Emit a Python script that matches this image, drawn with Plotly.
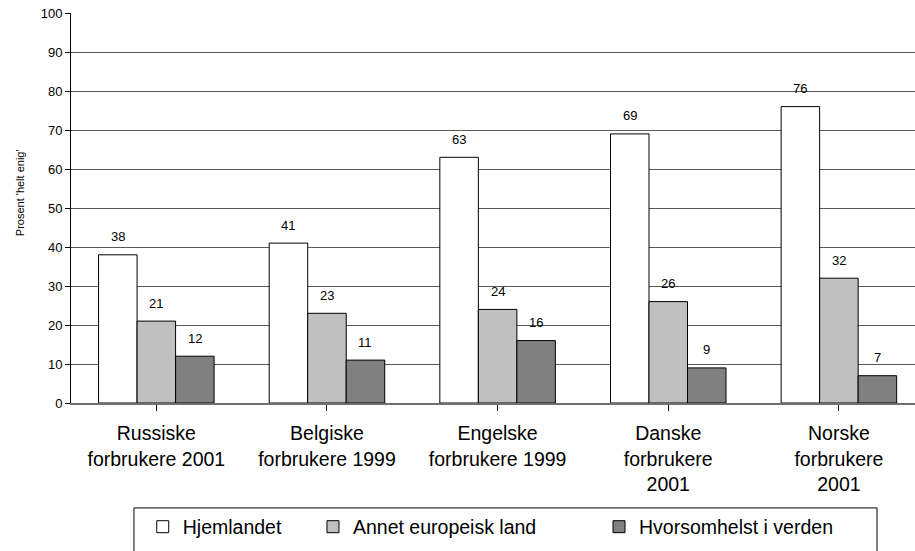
import plotly.graph_objects as go

# Survey groups (x categories)
categories = [
    "Russiske<br>forbrukere 2001",
    "Belgiske<br>forbrukere 1999",
    "Engelske<br>forbrukere 1999",
    "Danske<br>forbrukere<br>2001",
    "Norske<br>forbrukere<br>2001",
]

# Share answering 'helt enig' (percent)
hjemlandet = [38, 41, 63, 69, 76]
annet_europeisk = [21, 23, 24, 26, 32]
hvorsomhelst = [12, 11, 16, 9, 7]

series_names = ["Hjemlandet", "Annet europeisk land", "Hvorsomhelst i verden"]
series_values = [hjemlandet, annet_europeisk, hvorsomhelst]
series_colors = ["#FFFFFF", "#C0C0C0", "#808080"]
legend_ids = ["legend", "legend2", "legend3"]

y_ticks = [0, 10, 20, 30, 40, 50, 60, 70, 80, 90, 100]

FONT = "Liberation Sans, Arial, sans-serif"
BARGAP = 0.323
BAR_W = (1 - BARGAP) / 3

fig = go.Figure()
for name, vals, color, lg in zip(series_names, series_values, series_colors, legend_ids):
    fig.add_trace(go.Bar(
        x=list(range(len(categories))),
        y=vals,
        name=name,
        marker=dict(color=color, line=dict(color="#000000", width=1)),
        legend=lg,
        showlegend=True,
        hoverinfo="skip",
    ))

# value labels above each bar
for j, vals in enumerate(series_values):
    for i, v in enumerate(vals):
        fig.add_annotation(
            x=i + (j - 1) * BAR_W, y=v, xref="x", yref="y",
            text=str(v), showarrow=False,
            yanchor="middle", yshift=18,
            font=dict(family=FONT, size=13, color="#000000"),
        )

# y-axis title
fig.add_annotation(
    text="Prosent 'helt enig'", textangle=-90,
    xref="paper", yref="paper", x=-0.0595, y=0.54,
    xanchor="center", yanchor="middle", showarrow=False,
    font=dict(family=FONT, size=11, color="#000000"),
)

# frame around the legend row
fig.add_shape(
    type="rect", xref="paper", yref="paper",
    x0=0.0746, x1=0.955, y0=-0.5, y1=-0.269,
    line=dict(color="#000000", width=1), fillcolor="rgba(0,0,0,0)",
)

legend_common = dict(
    orientation="h", yanchor="middle", xanchor="left",
    bgcolor="rgba(0,0,0,0)", borderwidth=0, visible=True,
    font=dict(family=FONT, size=19.5, color="#000000"),
)

fig.update_layout(
    width=915, height=551,
    margin=dict(l=71, r=0, t=13, b=148),
    paper_bgcolor="#FFFFFF", plot_bgcolor="#FFFFFF",
    barmode="group", bargap=BARGAP, bargroupgap=0,
    font=dict(family=FONT, color="#000000"),
    showlegend=True,
    legend=dict(x=0.085, y=-0.318, **legend_common),
    legend2=dict(x=0.2867, y=-0.318, **legend_common),
    legend3=dict(x=0.6256, y=-0.318, **legend_common),
    xaxis=dict(
        tickmode="array", tickvals=list(range(len(categories))), ticktext=categories,
        range=[-0.5, 4.446], tickson="boundaries",
        ticks="outside", ticklen=6, tickcolor="#000000",
        ticklabelstandoff=6,
        showgrid=False, showline=True, linecolor="#707070", linewidth=1.5,
        tickfont=dict(family=FONT, size=19.5, color="#000000"),
        zeroline=False,
    ),
    yaxis=dict(
        range=[0, 100], tickvals=y_ticks,
        ticks="outside", ticklen=5, tickcolor="#000000",
        showgrid=True, gridcolor="#5a5a5a", gridwidth=1,
        showline=True, linecolor="#000000", linewidth=1,
        tickfont=dict(family=FONT, size=13, color="#000000"),
        zeroline=False,
    ),
)

fig.write_html("out.html")
